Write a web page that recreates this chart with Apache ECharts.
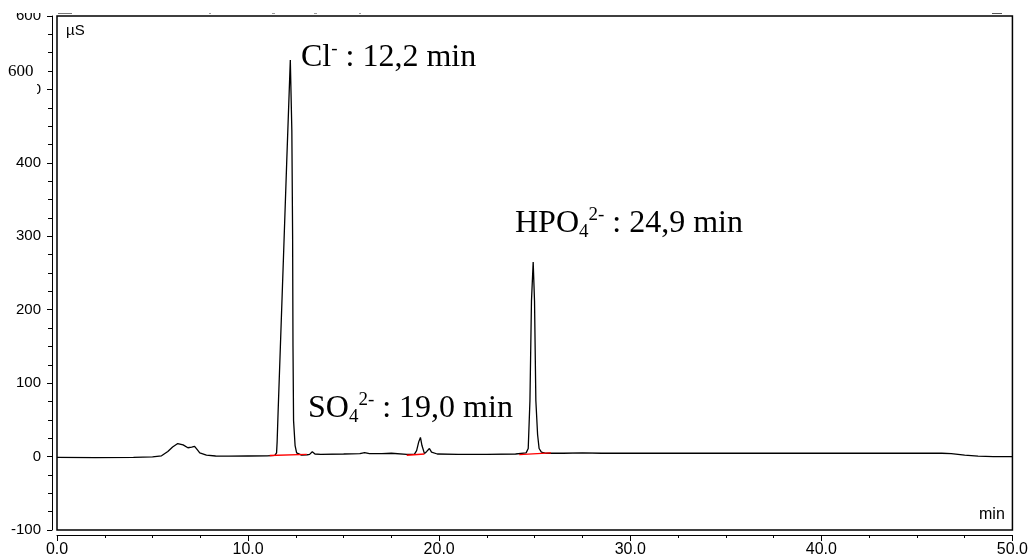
<!DOCTYPE html>
<html>
<head>
<meta charset="utf-8">
<script src="https://cdn.jsdelivr.net/npm/echarts@6/dist/echarts.min.js"></script>
<style>
html,body{margin:0;padding:0;background:#fff;}
#c{width:1031px;height:558px;}
</style>
</head>
<body>
<div id="c"></div>
<script>
// Retention time (min)
const time = [0, 2, 4, 5, 5.47, 5.8, 6.05, 6.32, 6.6, 6.85, 7.05, 7.2, 7.35, 7.47, 7.82, 8.3, 9, 10, 11, 11.4, 11.49, 11.52, 11.57, 11.69, 11.85, 12.02, 12.21, 12.29, 12.33, 12.35, 12.38, 12.46, 12.54, 12.64, 12.8, 13.1, 13.22, 13.36, 13.5, 13.8, 15, 15.85, 16.1, 16.35, 17, 17.5, 18.3, 18.7, 18.82, 18.93, 19.02, 19.1, 19.23, 19.35, 19.49, 19.6, 19.9, 21, 22.5, 24, 24.55, 24.66, 24.75, 24.83, 24.92, 24.99, 25.06, 25.15, 25.23, 25.35, 25.6, 26.5, 27.5, 28.5, 30, 35, 40, 46.3, 46.8, 47.5, 48.2, 49, 50];
// Conductivity signal (µS)
const signal = [-1, -1.5, -1, -0.5, 1, 7, 13, 17.7, 16, 12, 13, 14, 9, 5, 2, 0.8, 0.5, 0.8, 1, 1.5, 5, 20, 60, 150, 270, 400, 540, 444, 300, 150, 49, 15, 5, 2.5, 2, 2.5, 3, 6.5, 3.5, 3, 3.5, 4, 5.5, 4, 4, 4.5, 3, 3, 8, 20, 26, 15, 4, 7, 11, 6, 3.5, 3, 3, 3.5, 5, 11, 76, 212, 265, 212, 76, 30, 11, 6, 4.5, 4.5, 5, 4.5, 4.5, 4.5, 4.5, 4.5, 4, 2, 0.5, 0, 0];
// Integration baselines (red)
const baseClT = [11.13, 13.07];   const baseClV = [1.4, 3];
const baseSO4T = [18.3, 19.23];   const baseSO4V = [1.8, 3.6];
const baseHPOT = [24.19, 25.85];  const baseHPOV = [2.7, 5];
// Axes
const xTicks = [0, 10, 20, 30, 40, 50];
const yTicks = [-100, 0, 100, 200, 300, 400, 500, 600];

const pairs = (a, b) => a.map((v, i) => [v, b[i]]);

const chart = echarts.init(document.getElementById('c'), null, {renderer: 'canvas'});
const serif = 'Liberation Serif, Times New Roman, serif';
const sans = 'Liberation Sans, Arial, sans-serif';

function annot(x, y, parts) {
  return {
    type: 'text', x: x, y: y, z: 100,
    style: {
      text: parts,
      verticalAlign: 'top',
      fill: '#000',
      rich: {
        m: {fontFamily: serif, fontSize: 32, lineHeight: 36, verticalAlign: 'middle', fill: '#000'},
        sup: {fontFamily: serif, fontSize: 19, lineHeight: 28, verticalAlign: 'top', fill: '#000'},
        sub: {fontFamily: serif, fontSize: 19, lineHeight: 22, verticalAlign: 'bottom', fill: '#000'}
      }
    }
  };
}

chart.setOption({
  animation: false,
  backgroundColor: '#fff',
  grid: {left: 57, right: 17, top: 16, bottom: 28, show: true, borderColor: '#000', borderWidth: 1.5, backgroundColor: 'transparent'},
  xAxis: {
    type: 'value', min: xTicks[0], max: xTicks[xTicks.length - 1], interval: 10,
    offset: 5,
    axisLine: {show: true, onZero: false, lineStyle: {color: '#000', width: 1}},
    axisTick: {show: true, length: 6, lineStyle: {color: '#000'}},
    minorTick: {show: true, splitNumber: 4, length: 3, lineStyle: {color: '#000'}},
    splitLine: {show: false},
    axisLabel: {color: '#000', fontFamily: sans, fontSize: 16, margin: 7, formatter: v => v.toFixed(1)}
  },
  yAxis: {
    type: 'value', min: yTicks[0], max: yTicks[yTicks.length - 1], interval: 100,
    offset: 5,
    axisLine: {show: true, onZero: false, lineStyle: {color: '#000', width: 1}},
    axisTick: {show: true, length: 5, lineStyle: {color: '#000'}},
    minorTick: {show: true, splitNumber: 4, length: 4, lineStyle: {color: '#000'}},
    splitLine: {show: false},
    axisLabel: {color: '#000', fontFamily: sans, fontSize: 15, margin: 11}
  },
  series: [
    {type: 'line', data: pairs(time, signal), symbol: 'none', lineStyle: {color: '#000', width: 1.3}, clip: true, z: 2},
    {type: 'line', data: pairs(baseClT, baseClV), symbol: 'none', lineStyle: {color: '#ff0000', width: 1.4}, z: 3},
    {type: 'line', data: pairs(baseSO4T, baseSO4V), symbol: 'none', lineStyle: {color: '#ff0000', width: 1.4}, z: 3},
    {type: 'line', data: pairs(baseHPOT, baseHPOV), symbol: 'none', lineStyle: {color: '#ff0000', width: 1.4}, z: 3}
  ],
  graphic: [
    {type: 'rect', z: 100, shape: {x: 0, y: 0, width: 1031, height: 13}, style: {fill: '#fff'}},
    {type: 'rect', z: 100, shape: {x: 0, y: 59, width: 37, height: 38}, style: {fill: '#fff'}},
    {type: 'text', z: 101, x: 8, y: 63, style: {text: '600', fontFamily: serif, fontSize: 17, fill: '#000'}},
    {type: 'line', z: 101, shape: {x1: 58, y1: 13.5, x2: 72, y2: 13.5}, style: {stroke: '#777', lineWidth: 1}},
    {type: 'line', z: 101, shape: {x1: 209, y1: 13.5, x2: 211, y2: 13.5}, style: {stroke: '#999', lineWidth: 1}},
    {type: 'line', z: 101, shape: {x1: 272, y1: 13.5, x2: 275, y2: 13.5}, style: {stroke: '#999', lineWidth: 1}},
    {type: 'line', z: 101, shape: {x1: 314, y1: 13.5, x2: 317, y2: 13.5}, style: {stroke: '#999', lineWidth: 1}},
    {type: 'line', z: 101, shape: {x1: 359, y1: 13.5, x2: 361, y2: 13.5}, style: {stroke: '#999', lineWidth: 1}},
    {type: 'line', z: 101, shape: {x1: 992, y1: 13.5, x2: 1002, y2: 13.5}, style: {stroke: '#555', lineWidth: 1}},
    {type: 'text', z: 101, x: 66, y: 23, style: {text: 'µS', fontFamily: sans, fontSize: 15, fill: '#000'}},
    {type: 'text', z: 101, x: 979, y: 507, style: {text: 'min', fontFamily: sans, fontSize: 16, fill: '#000'}},
    annot(301, 39.5, '{m|Cl}{sup|-}{m| : 12,2 min}'),
    annot(308, 390.5, '{m|SO}{sub|4}{sup|2-}{m| : 19,0 min}'),
    annot(515, 206, '{m|HPO}{sub|4}{sup|2-}{m| : 24,9 min}')
  ]
});
</script>
</body>
</html>
